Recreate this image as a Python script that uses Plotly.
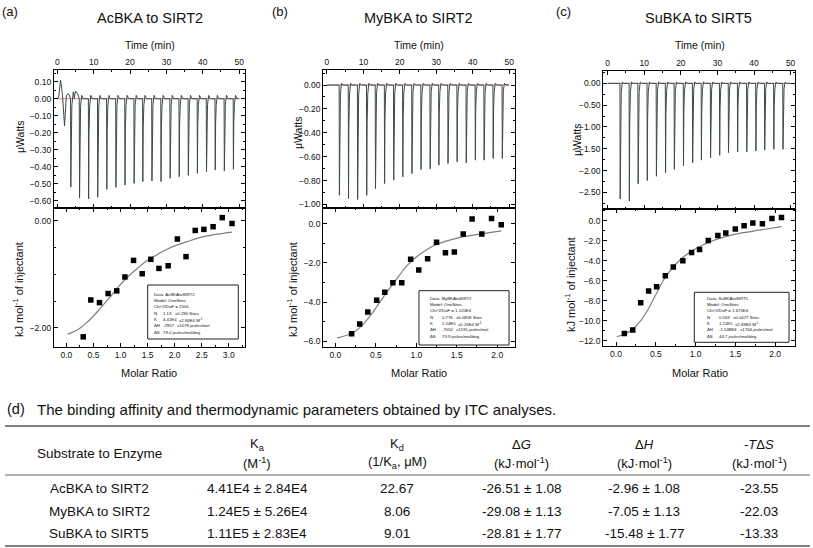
import plotly.graph_objects as go

W, H = 813, 548
def fx(p): return p / W
def fy(p): return 1 - p / H

FONT = "Liberation Sans"

# ---------------- data ----------------
panel_tags = ["(a)", "(b)", "(c)"]
titles = ["AcBKA to SIRT2", "MyBKA to SIRT2", "SuBKA to SIRT5"]
run_span = [0.0, 50.0]

# raw thermograms: injection times (min) and peak heights (uW)
inj_t_a = [3.7, 6.1, 8.6, 11.1, 13.6, 16.1, 18.6, 21.1, 23.5, 26.0, 28.5, 31.0, 33.5, 36.0, 38.5, 41.0, 43.4, 45.9, 48.4]
peak_a = [-0.52, -0.585, -0.59, -0.58, -0.533, -0.521, -0.508, -0.498, -0.488, -0.484, -0.488, -0.468, -0.459, -0.451, -0.439, -0.429, -0.419, -0.425, -0.415]
pre_t_a = [0.4, 0.9, 1.4, 2.0, 2.5, 3.1, 4.4, 5.0, 5.6]
pre_v_a = [0.01, 0.11, 0.03, -0.16, 0.02, 0.03, 0.04, 0.045, 0.03]
over_a = 0.02

inj_t_b = [3.4, 5.9, 8.4, 10.9, 13.3, 15.8, 18.3, 20.8, 23.3, 25.8, 28.3, 30.7, 33.2, 35.7, 38.2, 40.7, 43.1, 45.6, 48.1]
peak_b = [-0.923, -0.951, -0.959, -0.923, -0.867, -0.825, -0.797, -0.769, -0.741, -0.708, -0.702, -0.671, -0.657, -0.643, -0.652, -0.629, -0.629, -0.615, -0.615]
over_b = 0.015

inj_t_c = [3.4, 5.9, 8.3, 10.8, 13.3, 15.8, 18.2, 20.7, 23.2, 25.6, 28.1, 30.6, 33.0, 35.5, 38.0, 40.5, 42.9, 45.4, 47.9]
peak_c = [-2.65, -2.70, -2.30, -2.23, -2.13, -2.05, -1.97, -1.89, -1.82, -1.76, -1.71, -1.65, -1.59, -1.57, -1.57, -1.55, -1.53, -1.51, -1.51]
over_c = 0.03

# integrated heats: molar ratio and kJ/mol of injectant
mr_a = [0.31, 0.45, 0.61, 0.77, 0.93, 1.08, 1.24, 1.40, 1.56, 1.71, 1.88, 2.05, 2.21, 2.38, 2.54, 2.71, 2.88, 3.06]
heat_a = [-2.17, -1.48, -1.53, -1.36, -1.31, -1.05, -0.74, -0.99, -0.72, -0.89, -0.84, -0.34, -0.67, -0.18, -0.16, -0.11, 0.06, -0.05]
fit_x_a = [0.02, 0.2, 0.39, 0.57, 0.76, 0.94, 1.12, 1.31, 1.49, 1.68, 1.86, 2.05, 2.23, 2.48, 2.78, 3.06]
fit_y_a = [-2.12, -2.04, -1.89, -1.70, -1.48, -1.26, -1.06, -0.89, -0.74, -0.63, -0.53, -0.45, -0.39, -0.31, -0.25, -0.21]

mr_b = [0.20, 0.30, 0.40, 0.51, 0.61, 0.71, 0.82, 0.93, 1.03, 1.14, 1.25, 1.36, 1.47, 1.58, 1.69, 1.81, 1.93, 2.05]
heat_b = [-5.61, -5.12, -4.51, -3.91, -3.50, -3.01, -3.01, -1.82, -2.36, -1.79, -0.95, -1.48, -1.45, -0.53, 0.24, -0.53, 0.27, -0.05]
fit_x_b = [0.02, 0.2, 0.3, 0.4, 0.5, 0.6, 0.7, 0.8, 0.9, 1.0, 1.1, 1.2, 1.4, 1.6, 1.8, 2.05]
fit_y_b = [-5.82, -5.6, -5.3, -4.85, -4.3, -3.7, -3.13, -2.58, -2.08, -1.7, -1.4, -1.15, -0.85, -0.65, -0.52, -0.37]

mr_c = [0.105, 0.21, 0.31, 0.41, 0.51, 0.62, 0.72, 0.84, 0.95, 1.05, 1.16, 1.28, 1.38, 1.50, 1.61, 1.72, 1.84, 1.96, 2.08]
heat_c = [-11.27, -10.93, -8.2, -7.03, -6.6, -5.5, -4.63, -4.0, -3.17, -2.87, -1.97, -1.47, -1.23, -0.83, -0.5, -0.23, -0.3, 0.23, 0.33]
fit_x_c = [0.01, 0.1, 0.2, 0.3, 0.4, 0.5, 0.6, 0.7, 0.8, 0.9, 1.0, 1.1, 1.2, 1.4, 1.6, 1.8, 2.08]
fit_y_c = [-11.6, -11.35, -10.9, -10.1, -8.9, -7.4, -5.9, -4.8, -3.95, -3.3, -2.8, -2.4, -2.05, -1.55, -1.2, -0.95, -0.6]

# fit result boxes
box_rows_a = [("Data: AcBKAtoSIRT2", "", ""), ("Model: OneSites", "", ""), ("Chi^2/DoF = 2506", "", ""),
              ("N", "1.13", "±0.290 Sites"), ("K", "4.41E4", "±2.84E4 M<sup>-1</sup>"),
              ("ΔH", "-2957", "±1078 joules/mol"), ("ΔS", "79.0 joules/mol/deg", "")]
box_rows_b = [("Data: MyBKAtoSIRT2", "", ""), ("Model: OneSites", "", ""), ("Chi^2/DoF = 1.120E4", "", ""),
              ("N", "0.776", "±0.0858 Sites"), ("K", "1.24E5", "±5.26E4 M<sup>-1</sup>"),
              ("ΔH", "-7052", "±1135 joules/mol"), ("ΔS", "73.9 joules/mol/deg", "")]
box_rows_c = [("Data: SuBKAtoSIRT5", "", ""), ("Model: OneSites", "", ""), ("Chi^2/DoF = 1.675E4", "", ""),
              ("N", "0.563", "±0.0477 Sites"), ("K", "1.11E5", "±2.83E4 M<sup>-1</sup>"),
              ("ΔH", "-1.548E4", "±1764 joules/mol"), ("ΔS", "44.7 joules/mol/deg", "")]

# table (d)
table_tag = "(d)"
table_title = "The binding affinity and thermodynamic parameters obtained by ITC analyses."
col_head1 = ["Substrate to Enzyme", "K<sub>a</sub>", "K<sub>d</sub>", "Δ<i>G</i>", "Δ<i>H</i>", "-<i>T</i>Δ<i>S</i>"]
col_head2 = ["", "(M<sup>-1</sup>)", "(1/K<sub>a</sub>, μM)", "(kJ·mol<sup>-1</sup>)", "(kJ·mol<sup>-1</sup>)", "(kJ·mol<sup>-1</sup>)"]
substrates = ["AcBKA to SIRT2", "MyBKA to SIRT2", "SuBKA to SIRT5"]
ka_vals = ["4.41E4 ± 2.84E4", "1.24E5 ± 5.26E4", "1.11E5 ± 2.83E4"]
kd_vals = ["22.67", "8.06", "9.01"]
dg_vals = ["-26.51 ± 1.08", "-29.08 ± 1.13", "-28.81 ± 1.77"]
dh_vals = ["-2.96 ± 1.08", "-7.05 ± 1.13", "-15.48 ± 1.77"]
tds_vals = ["-23.55", "-22.03", "-13.33"]

# ---------------- layout geometry (pixels) ----------------
panels = [
    dict(x0=54, x1=245, top=70, mid=208, bot=347, trange=[-0.9, 51.6], yr_top=[-0.643, 0.169], ydt_top=0.1, ymin_top=0.05, yfmt_top=".2f",
         xr_bot=[-0.23, 3.30], yr_bot=[-2.36, 0.24], ydt_bot=2, ymin_bot=0.5, yfmt_bot=".2f",
         tag_x=10, title_x=150, ttl_x=150, uw_x=20, uw_y=137, kj_x=18, kj_y=290, mr_x=149,
         box=(147.7, 285, 238.3, 339), bx=151.7, c2=160.7, c3=173.3, by0=294.3, bdy=6.3),
    dict(x0=323.3, x1=515, top=70, mid=208, bot=347, trange=[-1.0, 51.6], yr_top=[-1.03, 0.126], ydt_top=0.2, ymin_top=0.1, yfmt_top=".2f",
         xr_bot=[-0.15, 2.22], yr_bot=[-6.29, 0.8], ydt_bot=2, ymin_bot=1, yfmt_bot=".1f",
         tag_x=280, title_x=418, ttl_x=419, uw_x=298, uw_y=133, kj_x=292, kj_y=290, mr_x=419,
         box=(419, 290.7, 509, 345), bx=428.3, c2=440, c3=453.3, by0=298.3, bdy=6.3),
    dict(x0=603.3, x1=795, top=70.7, mid=209, bot=346, trange=[-1.2, 51.2], yr_top=[-2.88, 0.29], ydt_top=0.5, ymin_top=0.25, yfmt_top=".2f",
         xr_bot=[-0.16, 2.25], yr_bot=[-12.53, 1.17], ydt_bot=2, ymin_bot=1, yfmt_bot=".1f",
         tag_x=563, title_x=698, ttl_x=700, uw_x=577, uw_y=140, kj_x=570, kj_y=285, mr_x=700,
         box=(694.3, 292.3, 789, 342.3), bx=705, c2=716.7, c3=731, by0=298.3, bdy=6.3),
]

raw = [(inj_t_a, peak_a, over_a, pre_t_a, pre_v_a), (inj_t_b, peak_b, over_b, [], []), (inj_t_c, peak_c, over_c, [], [])]
iso = [(mr_a, heat_a, fit_x_a, fit_y_a), (mr_b, heat_b, fit_x_b, fit_y_b), (mr_c, heat_c, fit_x_c, fit_y_c)]
boxes = [box_rows_a, box_rows_b, box_rows_c]

shape_dt = [-0.05, 0.02, 0.12, 0.3, 0.6, 1.0]
shape_fr = [0.0, 1.0, 0.35, 0.08, None, 0.0]

def thermogram(times, depths, over, pre_t, pre_v):
    pts = [(run_span[0], 0.0), (run_span[1], 0.0)]
    pts += list(zip(pre_t, pre_v))
    for t, d in zip(times, depths):
        for dt, fr in zip(shape_dt, shape_fr):
            pts.append((t + dt, over if fr is None else d * fr))
    pts.sort(key=lambda p: p[0])
    return [p[0] for p in pts], [p[1] for p in pts]

fig = go.Figure()
layout = dict(width=W, height=H, margin=dict(l=0, r=0, t=0, b=0), paper_bgcolor="white",
              plot_bgcolor="white", showlegend=False, font=dict(family=FONT, color="#111"))
annotations = []
shapes = []

tickfont = dict(family=FONT, size=8.5, color="#111")
def axis_style(**kw):
    d = dict(showline=True, linecolor="black", linewidth=1.3, mirror="ticks", ticks="inside",
             ticklen=4, tickwidth=1, tickcolor="black", showgrid=False, zeroline=False,
             tickfont=tickfont)
    d.update(kw)
    return d

def ann(text, x, y, size, xanchor="center", yanchor="middle", angle=0, **kw):
    annotations.append(dict(text=text, x=fx(x), y=fy(y), xref="paper", yref="paper", showarrow=False,
                            xanchor=xanchor, yanchor=yanchor, textangle=angle,
                            font=dict(family=FONT, size=size, color="#111"), **kw))

BOXF = 4.3
for i, p in enumerate(panels):
    nt = 2 * i + 1
    nb = 2 * i + 2
    xt, yt = f"x{nt}", f"y{nt}"
    xb, yb = f"x{nb}", f"y{nb}"
    dom_x = [fx(p["x0"]), fx(p["x1"])]
    times, depths, over, pre_t, pre_v = raw[i]
    tx, ty = thermogram(times, depths, over, pre_t, pre_v)
    fig.add_trace(go.Scatter(x=run_span, y=[0, 0], mode="lines", line=dict(color="#d9707a", width=0.9),
                             xaxis=xt, yaxis=yt, hoverinfo="skip"))
    fig.add_trace(go.Scatter(x=tx, y=ty, mode="lines", line=dict(color="#3c4a4c", width=1.0),
                             xaxis=xt, yaxis=yt))
    mr, heat, fxs, fys = iso[i]
    fig.add_trace(go.Scatter(x=fxs, y=fys, mode="lines", line=dict(color="#7a8080", width=1.2, shape="spline"),
                             xaxis=xb, yaxis=yb))
    fig.add_trace(go.Scatter(x=mr, y=heat, mode="markers", marker=dict(symbol="square", size=5.5, color="black"),
                             xaxis=xb, yaxis=yb))
    sfx = "" if nt == 1 else str(nt)
    layout[f"xaxis{sfx}"] = axis_style(domain=dom_x, anchor=yt, side="top", range=p["trange"], dtick=10, tick0=0,
                                       minor=dict(ticks="inside", ticklen=2, tickcolor="black", dtick=5))
    layout[f"yaxis{sfx}"] = axis_style(domain=[fy(p["mid"]), fy(p["top"])], anchor=xt, range=p["yr_top"],
                                       dtick=p["ydt_top"], tick0=0, tickformat=p["yfmt_top"],
                                       minor=dict(ticks="inside", ticklen=2, tickcolor="black", dtick=p["ymin_top"]))
    layout[f"xaxis{nb}"] = axis_style(domain=dom_x, anchor=yb, range=p["xr_bot"], dtick=0.5, tick0=0, tickformat=".1f",
                                      minor=dict(ticks="inside", ticklen=2, tickcolor="black", dtick=0.25))
    layout[f"yaxis{nb}"] = axis_style(domain=[fy(p["bot"]), fy(p["mid"])], anchor=xb, range=p["yr_bot"],
                                      dtick=p["ydt_bot"], tick0=0, tickformat=p["yfmt_bot"],
                                      minor=dict(ticks="inside", ticklen=2, tickcolor="black", dtick=p["ymin_bot"]))
    # texts
    ann(panel_tags[i], p["tag_x"], 11, 13)
    ann(titles[i], p["title_x"], 18, 14.5)
    ann("Time (min)", p["ttl_x"], 45, 10.5)
    ann("μWatts", p["uw_x"], p["uw_y"], 10.5, angle=-90)
    ann("kJ mol<sup>-1</sup> of injectant", p["kj_x"], p["kj_y"], 11, angle=-90)
    ann("Molar Ratio", p["mr_x"], 372.5, 11)
    # fit box
    bx0, by0_, bx1, by1 = p["box"]
    shapes.append(dict(type="rect", xref="paper", yref="paper", x0=fx(bx0), x1=fx(bx1), y0=fy(by1), y1=fy(by0_),
                       line=dict(color="#222", width=1), fillcolor="white", layer="above"))
    for r, (c1, c2, c3) in enumerate(boxes[i]):
        yy = p["by0"] + r * p["bdy"]
        ann(c1, p["bx"], yy, BOXF, xanchor="left")
        if c2:
            ann(c2, p["c2"], yy, BOXF, xanchor="left")
        if c3:
            x3 = max(p["c3"], p["c2"] + len(c2) * 0.56 * BOXF + 2)
            ann(c3, x3, yy, BOXF, xanchor="left")

# ---------------- table (d) ----------------
ann(table_tag, 5, 409, 14.5, xanchor="left")
ann(table_title, 35, 409, 15, xanchor="left")
col_x = [99, 257, 397, 521, 644, 759]
for y, w, c in [(426, 1.6, "#555"), (475, 1.0, "#666"), (546, 1.6, "#555")]:
    shapes.append(dict(type="line", xref="paper", yref="paper", x0=fx(5), x1=fx(810), y0=fy(y), y1=fy(y),
                       line=dict(color=c, width=w)))
for j, cx in enumerate(col_x):
    if col_head2[j]:
        ann(col_head1[j], cx, 444.5, 13)
        ann(col_head2[j], cx, 462.5, 13)
    else:
        ann(col_head1[j], cx, 453, 13.5)
row_y = [488, 511, 533]
for r, y in enumerate(row_y):
    for j, col in enumerate([substrates, ka_vals, kd_vals, dg_vals, dh_vals, tds_vals]):
        ann(col[r], col_x[j], y, 13.5)

layout["annotations"] = annotations
layout["shapes"] = shapes
fig.update_layout(**layout)
fig.write_html("out.html", config={"displayModeBar": False},
               post_script="document.body.style.margin='0';document.body.style.overflow='hidden';")
